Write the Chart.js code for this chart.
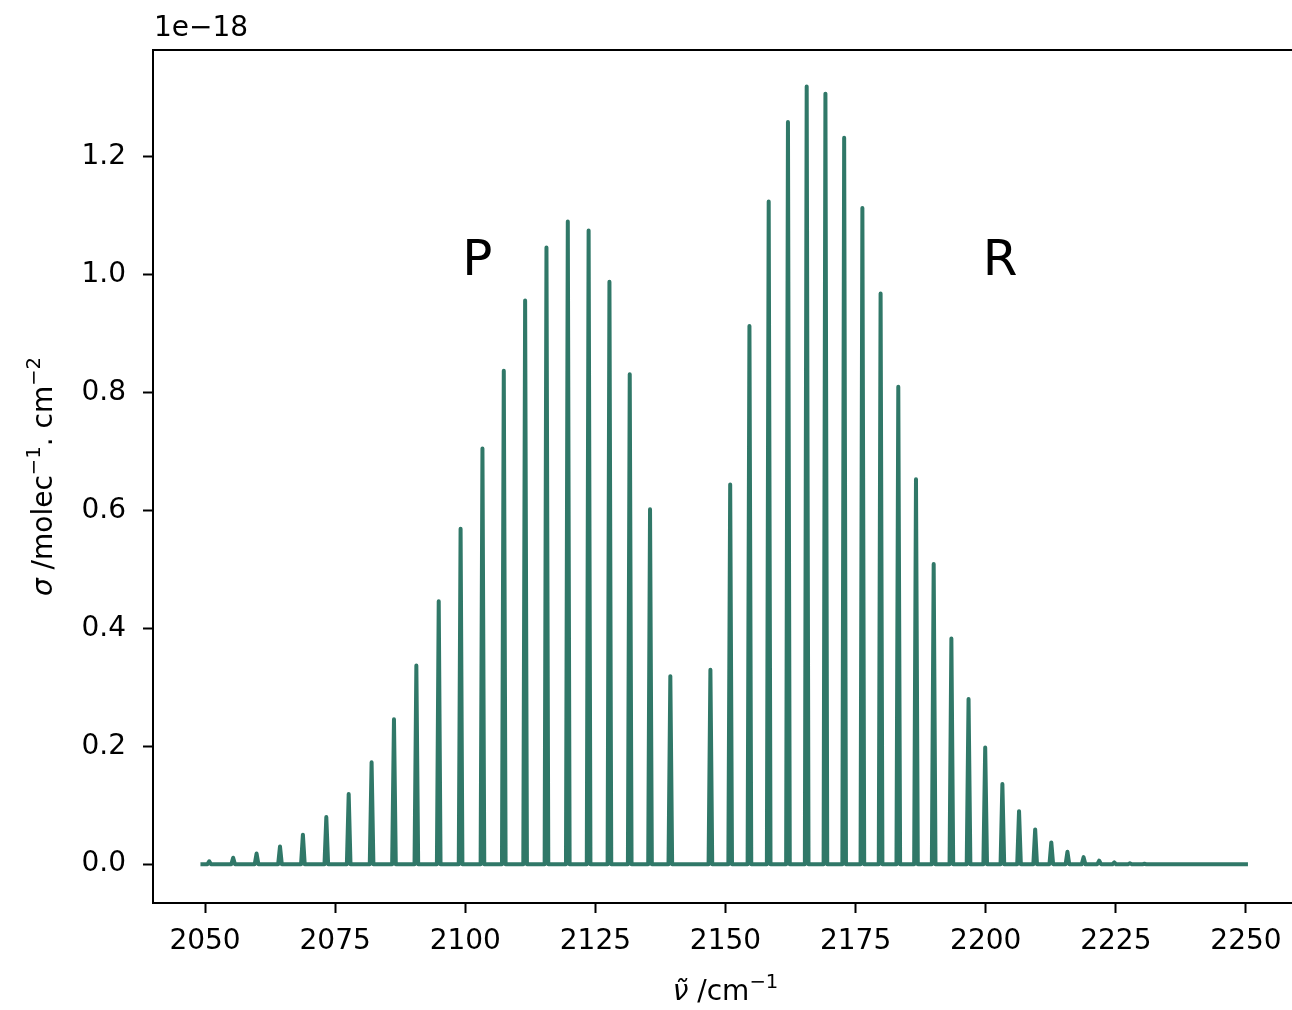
<!DOCTYPE html>
<html>
<head>
<meta charset="utf-8">
<script src="https://cdn.jsdelivr.net/npm/chart.js@4/dist/chart.umd.min.js"></script>
<style>
    html, body { margin: 0; padding: 0; background: #fff; overflow: hidden; }
    #wrap { width: 1305px; height: 1010px; }
</style>
</head>
<body>
<div id="wrap"><canvas id="spettro" width="1305" height="1010"></canvas></div>
<script>
// valori (sigma in unita di 1e-18)
const xTicks = [2050, 2075, 2100, 2125, 2150, 2175, 2200, 2225, 2250];
const yTicks = [0.0, 0.2, 0.4, 0.6, 0.8, 1.0, 1.2];

// ramo P (posizione della riga, cm-1)
const pPos = [2050.8, 2055.4, 2059.9, 2064.4, 2068.8, 2073.3, 2077.6, 2082.0, 2086.3, 2090.6, 2094.9,
    2099.1, 2103.3, 2107.4, 2111.5, 2115.6, 2119.7, 2123.7, 2127.7, 2131.6, 2135.5, 2139.4];
const pVal = [0.005, 0.011, 0.018, 0.030, 0.050, 0.080, 0.119, 0.173, 0.246, 0.337, 0.446,
    0.569, 0.705, 0.837, 0.956, 1.046, 1.090, 1.075, 0.988, 0.831, 0.602, 0.319];

// ramo R
const rPos = [2147.1, 2150.9, 2154.6, 2158.3, 2162.0, 2165.6, 2169.2, 2172.8, 2176.3, 2179.8, 2183.2,
    2186.6, 2190.0, 2193.4, 2196.7, 2199.9, 2203.2, 2206.4, 2209.5, 2212.6, 2215.7, 2218.8,
    2221.8, 2224.7, 2227.7, 2230.5];
const rVal = [0.330, 0.644, 0.913, 1.124, 1.259, 1.319, 1.307, 1.232, 1.113, 0.968, 0.810,
    0.653, 0.509, 0.383, 0.280, 0.198, 0.136, 0.090, 0.059, 0.037, 0.021, 0.012,
    0.006, 0.003, 0.0015, 0.0007];

const scanStart = 2049.5;
const scanEnd = 2250;
const halfWidth = 0.35;   // meta larghezza della riga alla base
const lineColor = '#307868';
const FONT = "'DejaVu Sans', sans-serif";

// costruisce la traccia continua dello spettro
function buildTrace() {
    const lines = [];
    pPos.forEach((p, i) => lines.push([p, pVal[i]]));
    rPos.forEach((p, i) => lines.push([p, rVal[i]]));
    lines.sort((a, b) => a[0] - b[0]);
    const pts = [{ x: scanStart, y: 0 }];
    lines.forEach(([c, h]) => {
        pts.push({ x: c - halfWidth, y: 0 });
        pts.push({ x: c, y: h });
        pts.push({ x: c + halfWidth, y: 0 });
    });
    pts.push({ x: scanEnd, y: 0 });
    return pts;
}

// testo con apici (stile mathtext)
function drawRuns(ctx, runs, size) {
    let w = 0;
    runs.forEach(r => {
        const s = r.sup ? size * 0.7 : size;
        ctx.font = (r.italic ? 'italic ' : '') + s + 'px ' + FONT;
        r.w = ctx.measureText(r.t).width;
        w += r.w;
    });
    let x = -w / 2;
    runs.forEach(r => {
        const s = r.sup ? size * 0.7 : size;
        ctx.font = (r.italic ? 'italic ' : '') + s + 'px ' + FONT;
        ctx.fillText(r.t, x, r.sup ? -size * 0.42 : 0);
        x += r.w;
    });
}

const decorazioni = {
    id: 'decorazioni',
    afterDraw(chart) {
        const ctx = chart.ctx;
        const a = chart.chartArea;
        const xs = chart.scales.x, ys = chart.scales.y;
        ctx.save();
        // cornice superiore (il lato destro resta fuori dalla finestra)
        ctx.strokeStyle = '#000';
        ctx.lineWidth = 2;
        ctx.beginPath();
        ctx.moveTo(a.left, a.top);
        ctx.lineTo(a.right + 10, a.top);
        ctx.stroke();

        ctx.fillStyle = '#000';
        ctx.textBaseline = 'alphabetic';
        ctx.textAlign = 'left';

        // offset dell'asse y
        ctx.font = '28px ' + FONT;
        ctx.fillText('1e\u221218', a.left + 1, 36);

        // etichette dei rami
        ctx.font = '50px ' + FONT;
        ctx.fillText('P', xs.getPixelForValue(2100) - 3, ys.getPixelForValue(1.0));
        ctx.fillText('R', xs.getPixelForValue(2200) - 3, ys.getPixelForValue(1.0));

        // titolo asse x
        ctx.save();
        ctx.translate((a.left + 1298) / 2, 1000);
        drawRuns(ctx, [
            { t: '\u03bd\u0303', italic: true },
            { t: ' /cm' },
            { t: '\u22121', sup: true }
        ], 28);
        ctx.restore();

        // titolo asse y
        ctx.save();
        ctx.translate(52, (a.top + a.bottom) / 2);
        ctx.rotate(-Math.PI / 2);
        drawRuns(ctx, [
            { t: '\u03c3', italic: true },
            { t: ' /molec' },
            { t: '\u22121', sup: true },
            { t: '. cm' },
            { t: '\u22122', sup: true }
        ], 28);
        ctx.restore();
        ctx.restore();
    }
};

document.addEventListener('DOMContentLoaded', function () {
    const ctx = document.getElementById('spettro').getContext('2d');
    new Chart(ctx, {
        type: 'line',
        data: {
            datasets: [{
                data: buildTrace(),
                borderColor: lineColor,
                borderWidth: 4,
                pointRadius: 0,
                tension: 0,
                borderJoinStyle: 'round',
                borderCapStyle: 'square',
                fill: false
            }]
        },
        options: {
            responsive: false,
            animation: false,
            layout: { padding: { top: 50, right: 7, left: 0, bottom: 0 } },
            plugins: {
                legend: { display: false },
                tooltip: { enabled: false }
            },
            scales: {
                x: {
                    type: 'linear',
                    min: 2040,
                    max: 2260,
                    afterFit: s => { s.height = 107; },
                    afterBuildTicks: s => { s.ticks = xTicks.map(v => ({ value: v })); },
                    grid: { drawOnChartArea: false, drawTicks: true, tickLength: 10, tickWidth: 2, tickColor: '#000' },
                    border: { display: true, color: '#000', width: 2 },
                    ticks: {
                        color: '#000',
                        padding: 12,
                        maxRotation: 0,
                        autoSkip: false,
                        font: { family: FONT, size: 28 },
                        callback: v => String(v)
                    }
                },
                y: {
                    min: -0.0658,
                    max: 1.381,
                    afterFit: s => { s.width = 153; },
                    afterBuildTicks: s => { s.ticks = yTicks.map(v => ({ value: v })); },
                    grid: { drawOnChartArea: false, drawTicks: true, tickLength: 10, tickWidth: 2, tickColor: '#000' },
                    border: { display: true, color: '#000', width: 2 },
                    ticks: {
                        color: '#000',
                        padding: 17,
                        autoSkip: false,
                        font: { family: FONT, size: 28 },
                        callback: v => v.toFixed(1)
                    }
                }
            }
        },
        plugins: [decorazioni]
    });
});
</script>
</body>
</html>
